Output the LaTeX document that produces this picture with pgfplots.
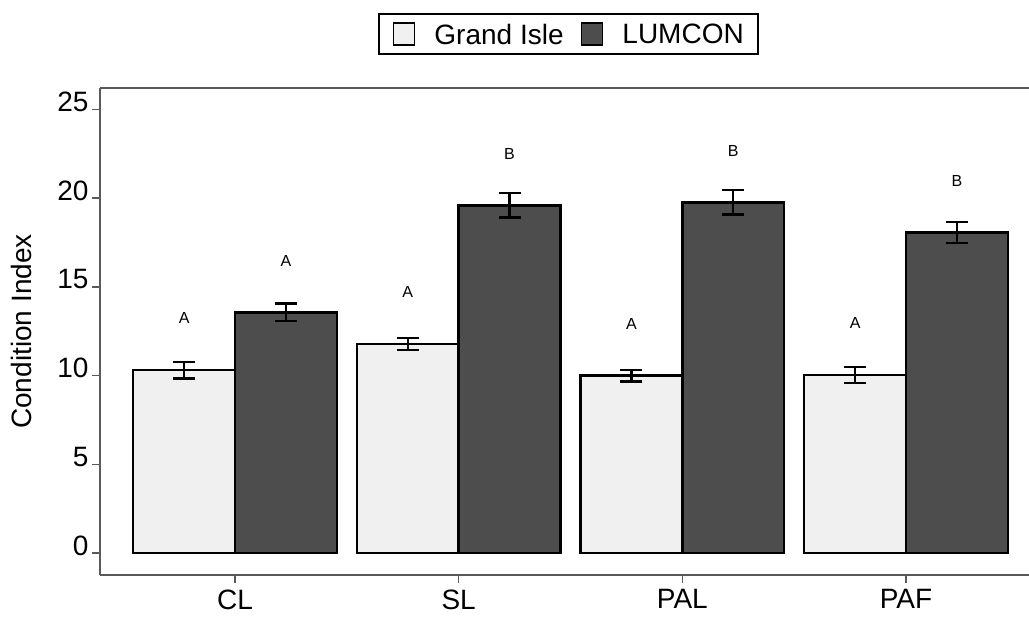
\documentclass[border=0pt]{standalone}
\usepackage{pgfplots}
\pgfplotsset{compat=1.18}
\usepackage{pgfplotstable}
\usepackage{fontspec}
\setmainfont{Liberation Sans}
\definecolor{gifill}{HTML}{F0F0F0}
\definecolor{lumfill}{HTML}{4D4D4D}
\definecolor{axgray}{HTML}{5A5A5A}

\pgfplotstableread{
x y err lab
0 10.30 0.46 A
1 11.77 0.33 A
2 9.99 0.33 A
3 10.03 0.45 A
}\tabGI
\pgfplotstableread{
x y err lab
0 13.56 0.50 A
1 19.59 0.68 B
2 19.76 0.69 B
3 18.07 0.59 B
}\tabLUM

\pgfplotsset{
  myerr/.style={
    error bars/y dir=both,
    error bars/y explicit,
    error bars/error bar style={line width=2.5bp, black},
    error bars/error mark options={rotate=90, line width=2.5bp, black, mark size=11bp},
  }
}

\begin{document}
\begin{tikzpicture}
\path[use as bounding box] (-100bp,-45bp) rectangle (929bp,575bp);
\begin{axis}[
  scale only axis,
  width=929bp, height=487bp,
  ybar=0pt, bar width=0.455,
  xmin=-0.6036, xmax=3.550,
  ymin=-1.239, ymax=26.2,
  enlargelimits=false,
  clip=false,
  axis lines=left,
  axis line style={axgray, line width=1.5bp, -},
  tick style={axgray, line width=1.5bp},
  major tick length=8bp,
  tick align=outside,
  xtick={0,1,2,3},
  xticklabels={CL,SL,PAL,PAF},
  ytick={0,5,10,15,20,25},
  /pgf/number format/assume math mode=true,
  tick label style={font=\fontsize{28bp}{33bp}\selectfont, text=black},
  yticklabel style={anchor=base east, yshift=-2bp},
  xticklabel style={yshift=-3bp},
  ylabel={Condition Index},
  every axis y label/.style={at={(axis description cs:-0.084,0.5)}, rotate=90, anchor=center, font=\fontsize{28bp}{33bp}\selectfont},
  nodes near coords,
  point meta=explicit symbolic,
  every node near coord/.append style={anchor=south, inner sep=0pt, yshift=45bp, font=\fontsize{16bp}{19bp}\selectfont, text=black},
  legend columns=2,
  legend style={at={(0.504,1)}, anchor=south, yshift=33bp, draw=black, line width=1.8bp,
    font=\fontsize{28bp}{33bp}\selectfont, inner xsep=14bp, inner ysep=8bp,
    nodes={inner sep=0pt, text depth=0pt},
    /tikz/every odd column/.append style={column sep=19bp},
    /tikz/every even column/.append style={column sep=17bp}},
]
\addplot[fill=gifill, draw=black, line width=2.5bp, myerr,
  legend image code/.code={\draw[fill=gifill, draw=black, line width=1.8bp] (0bp,-11bp) rectangle (21bp,11bp);}]
  table[x=x, y=y, y error=err, meta=lab] {\tabGI};
\addplot[fill=lumfill, draw=black, line width=2.5bp, myerr,
  legend image code/.code={\draw[fill=lumfill, draw=black, line width=1.8bp] (0bp,-11bp) rectangle (21bp,11bp);}]
  table[x=x, y=y, y error=err, meta=lab] {\tabLUM};
\legend{Grand Isle, LUMCON}
\draw[axgray, line width=1.5bp] (rel axis cs:0,1) -- (rel axis cs:1,1);
\end{axis}
\end{tikzpicture}
\end{document}
